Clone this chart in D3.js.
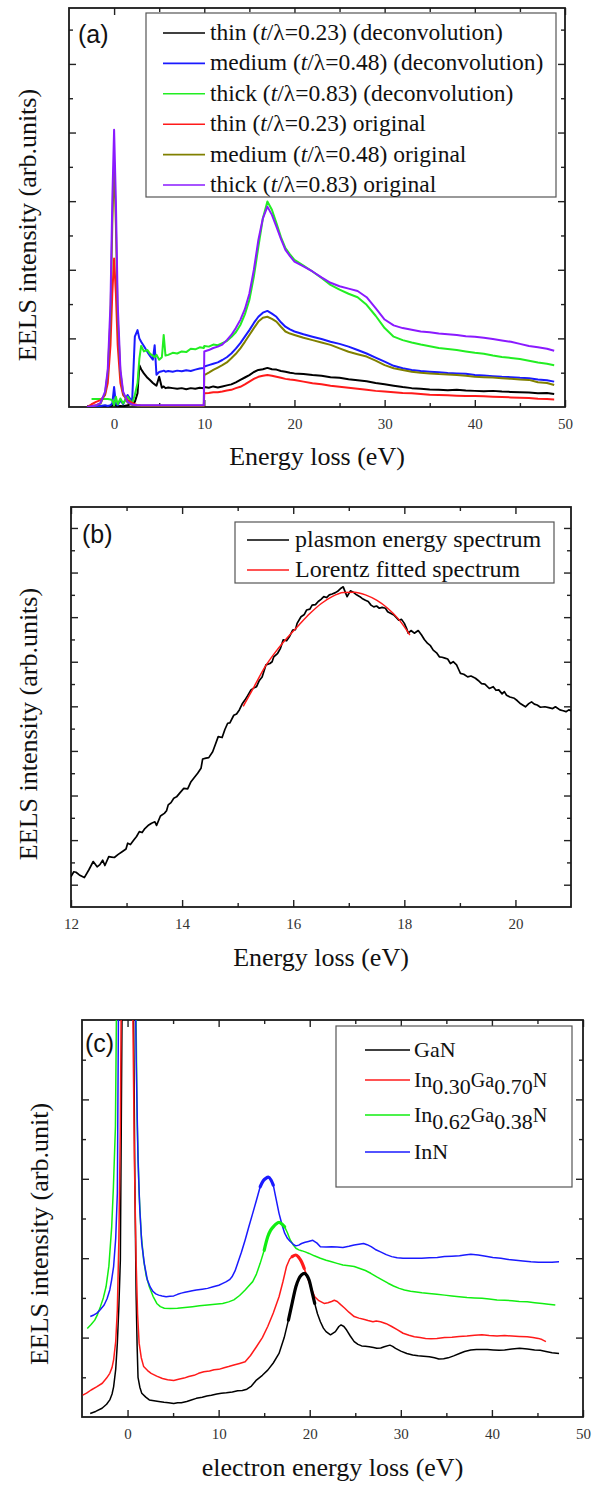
<!DOCTYPE html>
<html><head><meta charset="utf-8">
<script src="https://cdn.jsdelivr.net/npm/d3@7"></script>
<style>
body{margin:0;background:#fff}
svg{display:block}
</style>
</head><body>
<svg id="chart" width="598" height="1499"></svg>
<script>
// ---------------- Panel (a) data ----------------
const energyA = [-3,-2.5,-2,-1.5,-1,-0.7,-0.4,-0.2,0,0.2,0.4,0.7,1,1.5,2,2.3,2.6,2.8,3.0,3.3,3.7,4.0,4.3,4.5,4.7,5.0,5.3,5.5,5.7,6.0,6.5,7.0,7.5,8.0,8.5,9.0,9.5,9.95,
  10,10.5,11,11.5,12,12.5,13,13.5,14,14.5,15,15.5,16,16.5,17,17.5,18,18.5,19,19.5,20,
  21,22,23,24,25,26,27,28,29,30,31,32,33,34,35,36,37,38,39,40,41,42,43,44,45,46,47,48,48.8];
const thinDecon = [0.02,0.02,0.03,0.02,0.03,0.02,0.03,0.05,0.1,0.04,0.02,0.03,0.02,0.05,0.1,0.15,0.4,1.22,1.1,0.98,0.85,0.78,0.7,0.66,0.62,0.88,0.56,0.6,0.55,0.57,0.55,0.53,0.55,0.52,0.55,0.53,0.56,0.55,
  0.58,0.56,0.6,0.57,0.6,0.63,0.66,0.72,0.79,0.86,0.93,1.02,1.08,1.1,1.14,1.1,1.09,1.05,1.03,1.0,0.98,
  0.96,0.93,0.91,0.87,0.85,0.81,0.78,0.75,0.7,0.66,0.62,0.58,0.55,0.53,0.51,0.5,0.49,0.5,0.48,0.47,0.46,0.47,0.45,0.44,0.43,0.42,0.4,0.41,0.38];
const mediumDecon = [0.02,0.02,0.03,0.03,0.05,0.03,0.05,0.1,0.58,0.1,0.05,0.2,0.08,0.35,0.15,2.05,2.24,2.0,1.9,1.78,1.6,1.48,1.38,1.8,0.94,1.02,1.04,1.06,1.03,1.05,1.03,1.06,1.04,1.07,1.05,1.09,1.12,1.14,
  1.18,1.22,1.26,1.3,1.37,1.45,1.56,1.7,1.86,2.05,2.24,2.45,2.63,2.75,2.8,2.72,2.63,2.47,2.34,2.26,2.2,
  2.12,2.05,1.98,1.9,1.84,1.76,1.66,1.56,1.44,1.32,1.2,1.13,1.08,1.05,1.03,1.01,0.99,0.98,0.97,0.93,0.92,0.9,0.88,0.87,0.85,0.84,0.8,0.78,0.74];
const thickDecon = [null,0.23,0.23,0.23,0.23,0.23,0.22,0.2,0.05,0.3,0.08,0.25,0.1,0.3,0.1,0.35,0.7,1.4,1.78,1.62,1.66,1.55,1.5,1.45,1.52,1.38,1.45,2.1,1.5,1.52,1.58,1.56,1.62,1.6,1.7,1.68,1.74,1.72,
  1.78,1.76,1.82,1.8,1.86,1.92,2.04,2.18,2.39,2.7,3.12,3.8,4.67,5.5,5.99,5.75,5.36,4.95,4.63,4.45,4.29,
  4.12,3.95,3.76,3.56,3.42,3.3,3.2,2.98,2.66,2.3,2.05,1.95,1.88,1.82,1.77,1.72,1.69,1.66,1.62,1.58,1.55,1.5,1.46,1.43,1.4,1.35,1.3,1.26,1.22];
const thinOrig = [0,0.08,0.15,0.2,0.35,0.7,1.8,3.3,4.33,3.3,1.8,0.7,0.35,0.2,0.12,0.08,0.05,0.05,0.04,0.04,0.04,0.04,0.04,0.04,0.04,0.04,0.04,0.04,0.04,0.04,0.04,0.04,0.04,0.04,0.04,0.04,0.04,0.04,
  0.4,0.41,0.43,0.43,0.45,0.48,0.5,0.55,0.59,0.66,0.74,0.82,0.88,0.91,0.93,0.91,0.88,0.85,0.82,0.8,0.79,
  0.74,0.69,0.66,0.62,0.59,0.56,0.53,0.5,0.47,0.45,0.43,0.41,0.4,0.38,0.36,0.35,0.34,0.33,0.32,0.32,0.31,0.3,0.29,0.28,0.27,0.26,0.24,0.23,0.22];
const mediumOrig = [0,0.02,0.05,0.1,0.4,1.0,2.6,5.3,7.15,5.3,2.6,1.0,0.4,0.13,0.06,0.05,0.04,0.04,0.04,0.04,0.04,0.04,0.04,0.04,0.04,0.04,0.04,0.04,0.04,0.04,0.04,0.04,0.04,0.04,0.04,0.04,0.04,0.04,
  0.93,1.0,1.08,1.15,1.22,1.3,1.42,1.55,1.71,1.9,2.1,2.3,2.49,2.6,2.63,2.57,2.49,2.34,2.2,2.14,2.1,
  2.02,1.95,1.88,1.81,1.71,1.61,1.54,1.47,1.35,1.22,1.13,1.08,1.03,1.0,0.98,0.96,0.95,0.93,0.91,0.88,0.87,0.86,0.84,0.82,0.8,0.79,0.72,0.7,0.64];
const thickOrig = [0,0.02,0.05,0.12,0.45,1.1,3.0,6.0,8.08,6.0,3.0,1.1,0.45,0.15,0.07,0.06,0.05,0.05,0.05,0.05,0.05,0.05,0.05,0.05,0.05,0.05,0.05,0.05,0.05,0.05,0.05,0.05,0.05,0.05,0.05,0.05,0.05,0.05,
  1.62,1.66,1.72,1.76,1.82,1.95,2.1,2.3,2.54,2.85,3.3,4.0,4.87,5.5,5.84,5.6,5.26,4.9,4.58,4.4,4.24,
  4.1,3.95,3.78,3.62,3.52,3.45,3.38,3.2,2.88,2.55,2.38,2.3,2.25,2.2,2.18,2.14,2.12,2.1,2.06,2.05,2.02,1.98,1.94,1.9,1.84,1.78,1.74,1.7,1.64];
const seriesNamesA = ["thin","medium","thick","thin","medium","thick"];
const seriesRatiosA = ["0.23","0.48","0.83","0.23","0.48","0.83"];
const seriesKindA = ["(deconvolution)","(deconvolution)","(deconvolution)","original","original","original"];
const seriesColorsA = ["#000000","#1a1aff","#22ee22","#ff1a1a","#808000","#8a1aff"];
const xTicksA = [0,10,20,30,40,50];

// ---------------- Panel (b) data ----------------
const plasmonSpectrum = [[12.0,1.18],[12.05,1.29],[12.09,1.28],[12.15,1.22],[12.24,1.16],[12.32,1.33],[12.4,1.52],[12.47,1.4],[12.52,1.45],[12.57,1.55],[12.61,1.43],[12.68,1.63],[12.73,1.62],[12.78,1.61],[12.85,1.68],[12.92,1.74],[12.99,1.8],[13.02,1.93],[13.07,1.9],[13.13,2.0],[13.18,2.08],[13.23,2.19],[13.28,2.17],[13.33,2.26],[13.4,2.34],[13.45,2.38],[13.51,2.41],[13.54,2.33],[13.61,2.54],[13.68,2.6],[13.72,2.66],[13.75,2.79],[13.8,2.84],[13.85,2.94],[13.9,2.97],[13.96,3.06],[14.03,3.16],[14.1,3.15],[14.16,3.31],[14.23,3.42],[14.28,3.5],[14.34,3.61],[14.37,3.82],[14.43,3.84],[14.48,3.85],[14.55,3.98],[14.6,4.15],[14.65,4.32],[14.72,4.3],[14.77,4.48],[14.82,4.62],[14.86,4.63],[14.93,4.8],[14.98,4.83],[15.03,4.92],[15.08,5.05],[15.13,5.14],[15.18,5.24],[15.24,5.37],[15.3,5.42],[15.34,5.44],[15.39,5.58],[15.44,5.66],[15.51,5.93],[15.58,5.96],[15.62,6.0],[15.65,6.11],[15.72,6.19],[15.77,6.3],[15.82,6.49],[15.88,6.47],[15.93,6.56],[15.99,6.71],[16.04,6.72],[16.07,6.86],[16.14,7.01],[16.2,7.06],[16.24,7.16],[16.3,7.18],[16.34,7.27],[16.4,7.28],[16.45,7.35],[16.5,7.4],[16.55,7.46],[16.6,7.44],[16.65,7.5],[16.7,7.52],[16.76,7.55],[16.8,7.58],[16.86,7.65],[16.9,7.68],[16.94,7.55],[16.97,7.46],[17.03,7.59],[17.08,7.56],[17.14,7.5],[17.2,7.46],[17.24,7.42],[17.3,7.38],[17.35,7.35],[17.4,7.27],[17.45,7.23],[17.5,7.25],[17.55,7.2],[17.6,7.22],[17.66,7.2],[17.7,7.12],[17.76,7.08],[17.82,7.04],[17.9,6.93],[17.95,6.95],[18.0,6.86],[18.04,6.75],[18.07,6.64],[18.12,6.7],[18.18,6.64],[18.25,6.7],[18.31,6.6],[18.36,6.5],[18.42,6.41],[18.47,6.36],[18.52,6.26],[18.58,6.2],[18.63,6.11],[18.68,6.1],[18.73,6.08],[18.78,6.06],[18.83,5.96],[18.88,6.0],[18.94,5.93],[18.98,5.82],[19.01,5.74],[19.07,5.72],[19.14,5.66],[19.2,5.68],[19.28,5.63],[19.33,5.58],[19.39,5.51],[19.45,5.5],[19.53,5.4],[19.6,5.44],[19.65,5.36],[19.7,5.37],[19.76,5.28],[19.8,5.33],[19.84,5.25],[19.9,5.21],[19.98,5.18],[20.03,5.13],[20.08,5.07],[20.13,5.03],[20.18,4.99],[20.24,5.06],[20.29,5.1],[20.34,5.05],[20.39,5.03],[20.45,4.98],[20.53,4.99],[20.6,4.97],[20.67,4.95],[20.72,4.99],[20.8,4.92],[20.86,4.9],[20.91,4.88],[20.96,4.92],[21.0,4.9]];
const lorentzFit = [[15.1,5.0],[15.3,5.45],[15.5,5.9],[15.7,6.25],[15.9,6.55],[16.1,6.82],[16.3,7.08],[16.5,7.3],[16.7,7.46],[16.9,7.55],[17.1,7.56],[17.3,7.5],[17.5,7.38],[17.7,7.2],[17.9,6.95],[18.1,6.6]];
const seriesNamesB = ["plasmon energy spectrum","Lorentz fitted spectrum"];
const seriesColorsB = ["#000000","#ff1a1a"];
const xTicksB = [12,14,16,18,20];

// ---------------- Panel (c) data ----------------
const ganSpectrum = [[-4.1,0.09],[-3.5,0.14],[-2.8,0.22],[-2.3,0.32],[-1.95,0.43],[-1.7,0.58],[-1.53,0.76],[-1.3,1.2],[-1.12,1.86],[-0.95,2.8],[-0.79,3.95],[-0.55,12],[0.6,12],[0.8,6],[0.94,3.1],[1.05,1.8],[1.15,1.0],[1.35,0.75],[1.56,0.6],[2.0,0.5],[2.39,0.43],[2.9,0.41],[3.42,0.39],[4.0,0.37],[4.5,0.36],[5.07,0.34],[5.5,0.36],[5.9,0.36],[6.5,0.39],[7.0,0.43],[7.55,0.47],[8.2,0.5],[8.7,0.53],[9.2,0.55],[9.8,0.58],[10.3,0.6],[10.85,0.61],[11.5,0.63],[12.09,0.66],[12.6,0.67],[13.1,0.7],[13.6,0.78],[14.15,0.93],[14.8,1.05],[15.39,1.18],[16.0,1.36],[16.63,1.6],[17.2,2.0],[17.66,2.44],[18.1,2.9],[18.48,3.28],[18.8,3.48],[19.1,3.58],[19.43,3.62],[19.7,3.56],[19.93,3.45],[20.25,3.15],[20.55,2.86],[20.85,2.6],[21.17,2.4],[21.5,2.24],[21.79,2.15],[22.28,2.07],[22.82,2.15],[23.2,2.28],[23.44,2.32],[23.75,2.28],[24.05,2.19],[24.45,2.04],[24.88,1.9],[25.3,1.83],[25.7,1.79],[26.1,1.78],[26.53,1.77],[27.0,1.75],[27.36,1.73],[27.8,1.74],[28.18,1.77],[28.8,1.81],[29.1,1.78],[29.42,1.73],[30.0,1.66],[30.66,1.6],[31.3,1.56],[31.9,1.54],[32.5,1.53],[33.13,1.52],[33.7,1.49],[34.17,1.46],[34.7,1.47],[35.2,1.49],[35.8,1.54],[36.44,1.6],[37.0,1.65],[37.68,1.69],[38.3,1.7],[38.91,1.7],[39.5,1.7],[40.15,1.69],[40.8,1.68],[41.39,1.69],[42.2,1.71],[43.04,1.73],[43.9,1.71],[44.69,1.69],[45.3,1.68],[45.93,1.65],[46.6,1.62],[47.37,1.6]];
const in30Spectrum = [[-4.92,0.55],[-4.5,0.6],[-4.0,0.68],[-3.4,0.76],[-2.77,0.85],[-2.3,0.98],[-1.95,1.1],[-1.7,1.25],[-1.53,1.44],[-1.3,1.9],[-1.12,2.7],[-0.95,4.5],[-0.79,7.3],[-0.65,12],[0.5,12],[0.75,6.5],[0.94,3.95],[1.1,2.6],[1.27,1.86],[1.5,1.5],[1.77,1.27],[2.2,1.17],[2.59,1.1],[3.2,1.03],[3.83,0.97],[4.4,0.94],[5.07,0.92],[5.6,0.95],[6.2,0.98],[6.72,1.02],[7.3,1.05],[7.8,1.1],[8.37,1.14],[9.0,1.16],[9.5,1.19],[10.02,1.2],[10.6,1.24],[11.1,1.27],[11.67,1.31],[12.3,1.35],[12.91,1.39],[13.5,1.55],[14.15,1.77],[14.8,2.0],[15.39,2.28],[16.0,2.62],[16.63,3.03],[17.05,3.4],[17.45,3.79],[17.8,3.98],[18.07,4.04],[18.48,4.08],[18.8,4.02],[19.1,3.91],[19.4,3.74],[19.72,3.53],[20.1,3.28],[20.55,3.03],[21.0,2.93],[21.58,2.86],[22.0,2.88],[22.4,2.91],[22.7,2.94],[23.02,2.91],[23.4,2.83],[23.85,2.74],[24.3,2.64],[24.88,2.53],[25.4,2.49],[25.91,2.46],[26.4,2.43],[26.94,2.4],[27.3,2.42],[27.77,2.4],[28.4,2.35],[29.0,2.28],[29.6,2.2],[30.25,2.11],[30.9,2.06],[31.48,2.02],[32.1,2.0],[32.72,1.98],[33.3,1.97],[33.96,1.98],[34.8,2.0],[35.61,2.01],[36.4,2.03],[37.26,2.04],[38.1,2.06],[38.91,2.07],[39.7,2.05],[40.56,2.04],[41.4,2.05],[42.21,2.04],[43.0,2.03],[43.87,2.02],[44.5,2.0],[45.1,1.98],[45.5,1.95],[45.93,1.9]];
const in62Spectrum = [[-4.42,2.23],[-4.0,2.33],[-3.6,2.44],[-3.3,2.58],[-2.98,2.78],[-2.66,3.0],[-2.36,3.28],[-2.05,3.8],[-1.74,4.79],[-1.55,5.8],[-1.33,7.31],[-1.15,12],[0.85,12],[1.05,7.5],[1.27,5.63],[1.5,4.6],[1.77,3.95],[2.05,3.55],[2.39,3.28],[2.8,3.04],[3.21,2.86],[3.6,2.78],[4.04,2.74],[4.7,2.73],[5.48,2.74],[6.3,2.76],[7.13,2.78],[7.9,2.8],[8.78,2.82],[9.6,2.84],[10.44,2.86],[11.1,2.9],[11.67,2.95],[12.3,3.06],[12.91,3.2],[13.3,3.3],[13.74,3.41],[14.15,3.6],[14.56,3.87],[15.0,4.2],[15.39,4.54],[15.7,4.7],[16.0,4.79],[16.3,4.86],[16.63,4.9],[16.95,4.86],[17.25,4.79],[17.55,4.64],[17.86,4.46],[18.2,4.33],[18.48,4.25],[18.8,4.21],[19.1,4.19],[19.5,4.16],[19.93,4.12],[20.5,4.06],[21.17,4.0],[21.8,3.95],[22.4,3.91],[23.0,3.87],[23.64,3.83],[24.3,3.81],[24.88,3.79],[25.5,3.74],[26.12,3.69],[26.7,3.62],[27.36,3.53],[28.0,3.45],[28.6,3.37],[29.2,3.3],[29.83,3.24],[30.4,3.2],[31.07,3.17],[31.7,3.15],[32.31,3.13],[33.1,3.11],[33.96,3.09],[34.8,3.07],[35.61,3.05],[36.4,3.03],[37.26,3.01],[38.1,3.0],[38.91,2.99],[39.7,2.97],[40.56,2.95],[41.4,2.94],[42.21,2.93],[43.0,2.91],[43.87,2.9],[44.7,2.88],[45.52,2.86],[46.2,2.84],[46.96,2.82]];
const innSpectrum = [[-4.09,2.53],[-3.7,2.57],[-3.39,2.61],[-3.0,2.7],[-2.57,2.82],[-2.25,2.98],[-1.95,3.2],[-1.75,3.45],[-1.53,3.79],[-1.3,4.5],[-1.12,5.63],[-0.95,12],[0.8,12],[0.95,9],[1.15,6.47],[1.35,5.2],[1.56,4.37],[1.85,3.85],[2.18,3.45],[2.5,3.27],[2.8,3.16],[3.1,3.1],[3.42,3.07],[3.8,3.05],[4.24,3.03],[4.65,3.04],[5.07,3.05],[5.5,3.09],[5.9,3.12],[6.3,3.14],[6.72,3.16],[7.1,3.18],[7.55,3.2],[8.2,3.22],[8.78,3.24],[9.4,3.28],[10.02,3.32],[10.4,3.36],[10.85,3.41],[11.2,3.46],[11.47,3.53],[11.8,3.68],[12.09,3.87],[12.5,4.15],[12.91,4.46],[13.3,4.78],[13.74,5.13],[14.15,5.46],[14.56,5.8],[14.9,5.95],[15.18,6.01],[15.47,6.04],[15.75,5.97],[16.0,5.84],[16.3,5.5],[16.63,5.13],[16.95,4.85],[17.25,4.63],[17.55,4.5],[17.86,4.42],[18.2,4.35],[18.48,4.31],[18.8,4.33],[19.1,4.37],[19.5,4.4],[19.85,4.42],[20.34,4.45],[20.8,4.38],[21.17,4.29],[21.8,4.28],[22.4,4.29],[23.0,4.28],[23.64,4.27],[24.3,4.3],[24.88,4.33],[25.4,4.35],[25.91,4.37],[26.3,4.34],[26.74,4.29],[27.2,4.22],[27.77,4.16],[28.4,4.09],[29.0,4.04],[29.6,4.01],[30.25,4.0],[30.9,4.0],[31.48,4.0],[32.3,4.0],[33.13,4.01],[34.0,4.02],[34.79,4.04],[35.6,4.05],[36.44,4.06],[37.0,4.08],[37.68,4.1],[38.5,4.08],[39.33,4.05],[40.1,4.02],[40.98,4.0],[41.8,3.97],[42.63,3.95],[43.4,3.93],[44.28,3.91],[45.1,3.9],[45.93,3.9],[46.6,3.9],[47.37,3.91]];
const peakFitRangesC = [[17.6,20.8],[17.9,19.5],[14.9,17.4],[14.5,16.1]];
const seriesNamesC = ["GaN","In_{0.30}Ga_{0.70}N","In_{0.62}Ga_{0.38}N","InN"];
const seriesColorsC = ["#000000","#ff1a1a","#11ee11","#1a1aff"];
const xTicksC = [0,10,20,30,40,50];

// ---------------- drawing ----------------
const SERIF = "'Liberation Serif', 'Times New Roman', serif";
const SANS = "'Liberation Sans', Arial, sans-serif";
const svg = d3.select("#chart");

function panel(cfg){
  const g = svg.append("g");
  const x = d3.scaleLinear().domain(cfg.xDomain).range([cfg.left, cfg.right]);
  const y = d3.scaleLinear().domain(cfg.yDomain).range([cfg.bottom, cfg.top]);
  const clipId = "clip" + cfg.id;
  svg.append("clipPath").attr("id", clipId).append("rect")
    .attr("x", cfg.left).attr("y", cfg.top)
    .attr("width", cfg.right - cfg.left).attr("height", cfg.bottom - cfg.top);

  const axes = g.append("g");
  const tickStyle = sel => { sel.select(".domain").remove(); sel.selectAll("line").attr("stroke","#222").attr("stroke-width",1.4); };
  axes.append("g").attr("transform",`translate(0,${cfg.bottom})`)
    .call(d3.axisBottom(x).tickValues(cfg.xMajor).tickSize(-7).tickPadding(11).tickFormat(d3.format("d")))
    .call(tickStyle)
    .call(s => s.selectAll("text").style("font-family",SERIF).style("font-size","15px").attr("fill","#333"));
  axes.append("g").attr("transform",`translate(0,${cfg.bottom})`)
    .call(d3.axisBottom(x).tickValues(cfg.xMinor).tickSize(-4).tickFormat("")).call(tickStyle);
  axes.append("g").attr("transform",`translate(0,${cfg.top})`)
    .call(d3.axisTop(x).tickValues(cfg.xMajor).tickSize(-7).tickFormat("")).call(tickStyle);
  axes.append("g").attr("transform",`translate(0,${cfg.top})`)
    .call(d3.axisTop(x).tickValues(cfg.xMinor).tickSize(-4).tickFormat("")).call(tickStyle);
  [[cfg.left,d3.axisLeft],[cfg.right,d3.axisRight]].forEach(([pos,ax])=>{
    axes.append("g").attr("transform",`translate(${pos},0)`)
      .call(ax(y).tickValues(cfg.yMajor).tickSize(-7).tickFormat("")).call(tickStyle);
    axes.append("g").attr("transform",`translate(${pos},0)`)
      .call(ax(y).tickValues(cfg.yMinor).tickSize(-4).tickFormat("")).call(tickStyle);
  });
  g.append("rect").attr("x",cfg.left).attr("y",cfg.top)
    .attr("width",cfg.right-cfg.left).attr("height",cfg.bottom-cfg.top)
    .attr("fill","none").attr("stroke","#1a1a1a").attr("stroke-width",1.8);

  g.append("text").attr("x",(cfg.left+cfg.right)/2).attr("y",cfg.xTitleY)
    .attr("text-anchor","middle").style("font-family",SERIF).style("font-size","26px").attr("fill","#111").text(cfg.xTitle);
  g.append("text").attr("transform",`translate(${cfg.yTitleX},${cfg.yTitleCY}) rotate(-90)`)
    .attr("text-anchor","middle").style("font-family",SERIF).style("font-size","26px").attr("fill","#111").text(cfg.yTitle);
  g.append("text").attr("x",cfg.labelX).attr("y",cfg.labelY)
    .style("font-family",SANS).style("font-size","25px").attr("fill","#111").text(cfg.label);

  const plot = g.append("g").attr("clip-path",`url(#${clipId})`);
  return {g, x, y, plot};
}

// ---- Panel (a)
const A = panel({id:"a", xDomain:[-5,50], yDomain:[0,11.63], left:69, right:565, top:8, bottom:407,
  xMajor:xTicksA, xMinor:[5,15,25,35,45], yMajor:[2,4,6,8,10], yMinor:[1,3,5,7,9,11],
  xTitle:"Energy loss (eV)", xTitleY:465, yTitle:"EELS intensity (arb.units)", yTitleX:36, yTitleCY:225,
  label:"(a)", labelX:78, labelY:43});
const seriesA = [thinDecon, mediumDecon, thickDecon, thinOrig, mediumOrig, thickOrig];
const lineA = d3.line().defined(d => d[1] != null).x(d => A.x(d[0])).y(d => A.y(d[1]));
seriesA.forEach((vals,i)=>{
  A.plot.append("path").datum(energyA.map((e,j)=>[e, vals[j]]))
    .attr("d", lineA).attr("fill","none").attr("stroke",seriesColorsA[i])
    .attr("stroke-width",2).attr("stroke-linejoin","round");
});
const legA = A.g.append("g");
legA.append("rect").attr("x",146).attr("y",13).attr("width",410).attr("height",184)
  .attr("fill","#fff").attr("stroke","#555").attr("stroke-width",1.2);
seriesNamesA.forEach((n,i)=>{
  const yc = 33 + i*30.4;
  legA.append("line").attr("x1",163).attr("x2",205).attr("y1",yc).attr("y2",yc)
    .attr("stroke",seriesColorsA[i]).attr("stroke-width",1.6);
  const t = legA.append("text").attr("x",210).attr("y",yc+7)
    .style("font-family",SERIF).style("font-size","23.5px").attr("fill","#111");
  t.append("tspan").text(n + " (");
  t.append("tspan").style("font-style","italic").text("t");
  t.append("tspan").text("/\u03bb=" + seriesRatiosA[i] + ") " + seriesKindA[i]);
});

// ---- Panel (b)
const B = panel({id:"b", xDomain:[12,21], yDomain:[0.5,9.47], left:71, right:571, top:507, bottom:907,
  xMajor:xTicksB, xMinor:[13,15,17,19], yMajor:[1,2,3,4,5,6,7,8,9], yMinor:[1.5,2.5,3.5,4.5,5.5,6.5,7.5,8.5],
  xTitle:"Energy loss (eV)", xTitleY:966, yTitle:"EELS intensity (arb.units)", yTitleX:37, yTitleCY:724,
  label:"(b)", labelX:82, labelY:543});
const lineB = d3.line().x(d => B.x(d[0])).y(d => B.y(d[1]));
B.plot.append("path").datum(plasmonSpectrum).attr("d", lineB)
  .attr("fill","none").attr("stroke",seriesColorsB[0]).attr("stroke-width",1.7).attr("stroke-linejoin","round");
B.plot.append("path").datum(lorentzFit).attr("d", lineB.curve(d3.curveMonotoneX))
  .attr("fill","none").attr("stroke",seriesColorsB[1]).attr("stroke-width",1.5);
const legB = B.g.append("g");
legB.append("rect").attr("x",235).attr("y",522).attr("width",319).attr("height",61)
  .attr("fill","#fff").attr("stroke","#555").attr("stroke-width",1.2);
seriesNamesB.forEach((n,i)=>{
  const yc = 540 + i*30;
  legB.append("line").attr("x1",247).attr("x2",289).attr("y1",yc).attr("y2",yc)
    .attr("stroke",seriesColorsB[i]).attr("stroke-width",1.6);
  legB.append("text").attr("x",295).attr("y",yc+7)
    .style("font-family",SERIF).style("font-size","24px").attr("fill","#111").text(n);
});

// ---- Panel (c)
const C = panel({id:"c", xDomain:[-5,50], yDomain:[0,10], left:82, right:583, top:1020, bottom:1417,
  xMajor:xTicksC, xMinor:[5,15,25,35,45], yMajor:[2,4,6,8], yMinor:[1,3,5,7,9],
  xTitle:"electron energy loss (eV)", xTitleY:1476, yTitle:"EELS intensity (arb.unit)", yTitleX:48, yTitleCY:1234,
  label:"(c)", labelX:85, labelY:1052});
const lineC = d3.line().x(d => C.x(d[0])).y(d => C.y(d[1]));
const seriesC = [ganSpectrum, in30Spectrum, in62Spectrum, innSpectrum];
seriesC.forEach((pts,i)=>{
  C.plot.append("path").datum(pts).attr("d", lineC).attr("fill","none")
    .attr("stroke",seriesColorsC[i]).attr("stroke-width",1.5).attr("stroke-linejoin","round");
});
const lineCfit = d3.line().curve(d3.curveMonotoneX).x(d => C.x(d[0])).y(d => C.y(d[1]));
seriesC.forEach((pts,i)=>{
  const [a,b] = peakFitRangesC[i];
  C.plot.append("path").datum(pts.filter(d => d[0] >= a && d[0] <= b)).attr("d", lineCfit)
    .attr("fill","none").attr("stroke",seriesColorsC[i]).attr("stroke-width",3.2).attr("stroke-linecap","round");
});
const legC = C.g.append("g");
legC.append("rect").attr("x",336).attr("y",1026).attr("width",236).attr("height",161)
  .attr("fill","#fff").attr("stroke","#555").attr("stroke-width",1.2);
const rowYC = [1050,1080,1115,1152];
seriesNamesC.forEach((n,i)=>{
  const yc = rowYC[i];
  legC.append("line").attr("x1",365).attr("x2",410).attr("y1",yc).attr("y2",yc)
    .attr("stroke",seriesColorsC[i]).attr("stroke-width",1.6);
  const t = legC.append("text").attr("x",414).attr("y",yc+7)
    .style("font-family",SERIF).style("font-size","22px").attr("fill","#111");
  const parts = n.split(/_\{([^}]*)\}/);
  let shifted = 0;
  parts.forEach((p,k)=>{
    if(!p) return;
    const isSub = k % 2 === 1;
    const target = isSub ? 7 : 0;
    t.append("tspan").attr("dy", target - shifted).style("font-size", (isSub || k===0) ? "22px" : "20px").text(p);
    shifted = target;
  });
});
</script>
</body></html>
